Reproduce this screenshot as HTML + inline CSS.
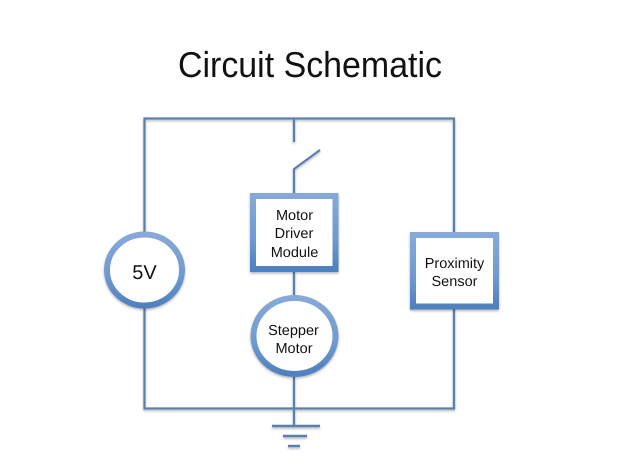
<!DOCTYPE html>
<html>
<head>
<meta charset="utf-8">
<style>
html,body{margin:0;padding:0;background:#fff;}
svg{display:block;}
text{font-family:"Liberation Sans",sans-serif;fill:#111;text-anchor:middle;text-rendering:geometricPrecision;}
</style>
</head>
<body>
<svg width="620" height="465" viewBox="0 0 620 465" xmlns="http://www.w3.org/2000/svg">
<defs>
<linearGradient id="ring" x1="0" y1="0" x2="0" y2="1">
<stop offset="0" stop-color="#86a9d8"/>
<stop offset="0.6" stop-color="#6e99d0"/>
<stop offset="1" stop-color="#4f80bf"/>
</linearGradient>
<filter id="sh" x="-10%" y="-10%" width="120%" height="125%">
<feGaussianBlur in="SourceAlpha" stdDeviation="1.2"/>
<feOffset dy="1.5"/>
<feComponentTransfer><feFuncA type="linear" slope="0.3"/></feComponentTransfer>
<feMerge><feMergeNode/><feMergeNode in="SourceGraphic"/></feMerge>
</filter>
</defs>
<rect width="620" height="465" fill="#fff"/>
<text x="310" y="77" font-size="36" textLength="264" lengthAdjust="spacingAndGlyphs">Circuit Schematic</text>
<g fill="none" stroke="#5b80ad" stroke-width="2.2" filter="url(#sh)">
<path d="M144.500 232V118.500H454V232"/>
<path d="M144.500 308V408.500H454V309"/>
<path d="M294 118.500V142"/>
<path d="M294 193V169L320 150"/>
<path d="M294 272V295"/>
<path d="M294 377V426"/>
<path d="M272 426H320" stroke-width="2.400"/>
<path d="M283 436H307" stroke-width="2.400"/>
<path d="M288 446H300" stroke-width="2.400"/>
</g>
<g fill="#fff" stroke="url(#ring)" stroke-width="6" filter="url(#sh)">
<ellipse cx="144.500" cy="270" rx="37.500" ry="35.500"/>
<ellipse cx="294.500" cy="336" rx="41" ry="38"/>
<rect x="253" y="196" width="82.500" height="73"/>
<rect x="413" y="235" width="83" height="71.500"/>
</g>
<text x="144.500" y="279" font-size="20">5V</text>
<text x="294.500" y="220" font-size="14.500">Motor</text>
<text x="294" y="238" font-size="14.500">Driver</text>
<text x="294.500" y="257" font-size="14.500">Module</text>
<text x="293.500" y="335" font-size="14.500">Stepper</text>
<text x="294" y="353" font-size="14.500">Motor</text>
<text x="454.500" y="268" font-size="14.500">Proximity</text>
<text x="454.500" y="286" font-size="14.500">Sensor</text>
</svg>
</body>
</html>
